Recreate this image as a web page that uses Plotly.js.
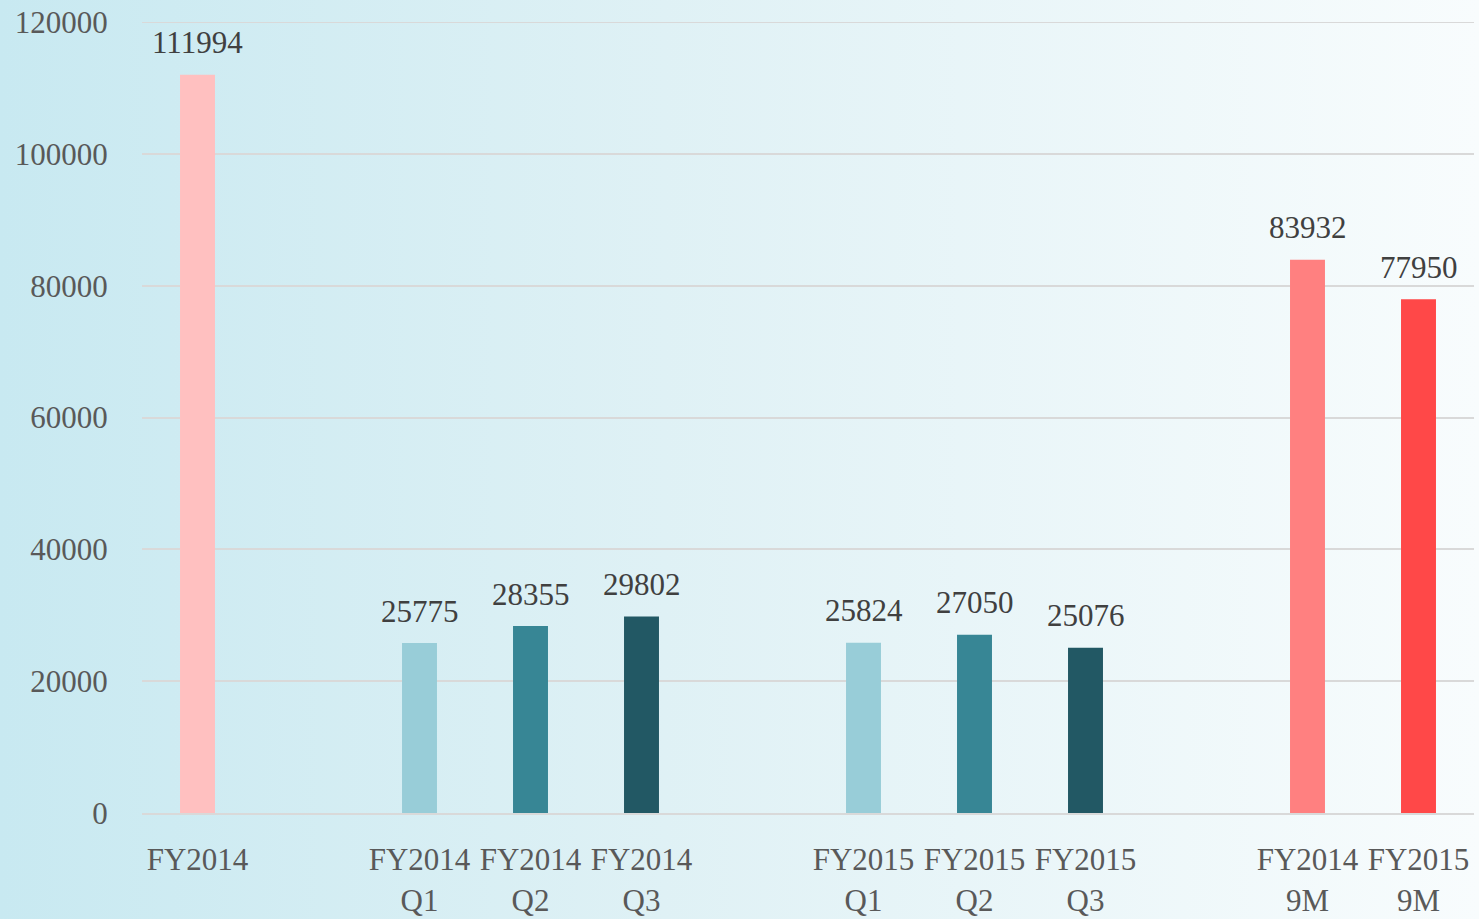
<!DOCTYPE html>
<html>
<head>
<meta charset="utf-8">
<script src="https://cdn.plot.ly/plotly-3.0.1.min.js"></script>
<style>
html,body{margin:0;padding:0;width:1479px;height:919px;overflow:hidden;
background:linear-gradient(to right,#c8e9f1 0%,#dff1f5 45%,#f8fcfd 100%);}
#chart{width:1479px;height:919px;}
</style>
</head>
<body>
<div id="chart"></div>
<script>
const categories = ["FY2014<br>", " ", "FY2014<br>Q1", "FY2014<br>Q2", "FY2014<br>Q3", "  ",
  "FY2015<br>Q1", "FY2015<br>Q2", "FY2015<br>Q3", "   ", "FY2014<br>9M", "FY2015<br>9M"];
const values = [111994, null, 25775, 28355, 29802, null, 25824, 27050, 25076, null, 83932, 77950];
const labels = ["111994", "", "25775", "28355", "29802", "", "25824", "27050", "25076", "", "83932", "77950"];
const colors = ["#ffc0c0", "#ffffff", "#98cdd8", "#378695", "#225864", "#ffffff",
  "#98cdd8", "#378695", "#225864", "#ffffff", "#ff8080", "#ff4848"];
const yTicks = [0, 20000, 40000, 60000, 80000, 100000, 120000];

const fontFam = "Liberation Serif, DejaVu Serif, serif";
const annotations = [];
categories.forEach((c, i) => {
  if (values[i] === null) return;
  annotations.push({
    x: c, y: values[i], xref: "x", yref: "y",
    text: labels[i], showarrow: false,
    yanchor: "middle", yshift: 32,
    font: {family: fontFam, size: 31, color: "#404040"}
  });
});
const yMax = yTicks[yTicks.length - 1];

Plotly.newPlot("chart", [{
  type: "bar",
  x: categories,
  y: values,
  marker: {color: colors},
  hoverinfo: "x+y"
}], {
  width: 1479, height: 919,
  margin: {l: 142, r: 5, t: 22, b: 106},
  paper_bgcolor: "rgba(0,0,0,0)",
  plot_bgcolor: "rgba(0,0,0,0)",
  bargap: 0.685,
  showlegend: false,
  annotations: annotations,
  shapes: [{
    type: "line", xref: "paper", yref: "y", x0: 0, x1: 1, y0: yMax, y1: yMax,
    line: {color: "#d9d9d9", width: 2}, layer: "below"
  }],
  xaxis: {
    type: "category",
    categoryorder: "array",
    categoryarray: categories,
    showgrid: false,
    showline: true, linecolor: "#d9d9d9", linewidth: 2,
    ticks: "outside", ticklen: 18, tickcolor: "rgba(0,0,0,0)",
    tickfont: {family: fontFam, size: 31, color: "#595959"},
    tickangle: 0,
    zeroline: false
  },
  yaxis: {
    range: [0, yMax],
    tickvals: yTicks,
    ticktext: yTicks.map(String),
    showgrid: true, gridcolor: "#d9d9d9", gridwidth: 2,
    zeroline: false,
    showline: false,
    ticks: "outside", ticklen: 27, tickcolor: "rgba(0,0,0,0)",
    tickfont: {family: fontFam, size: 31, color: "#595959"}
  }
}, {displayModeBar: false});
</script>
</body>
</html>
